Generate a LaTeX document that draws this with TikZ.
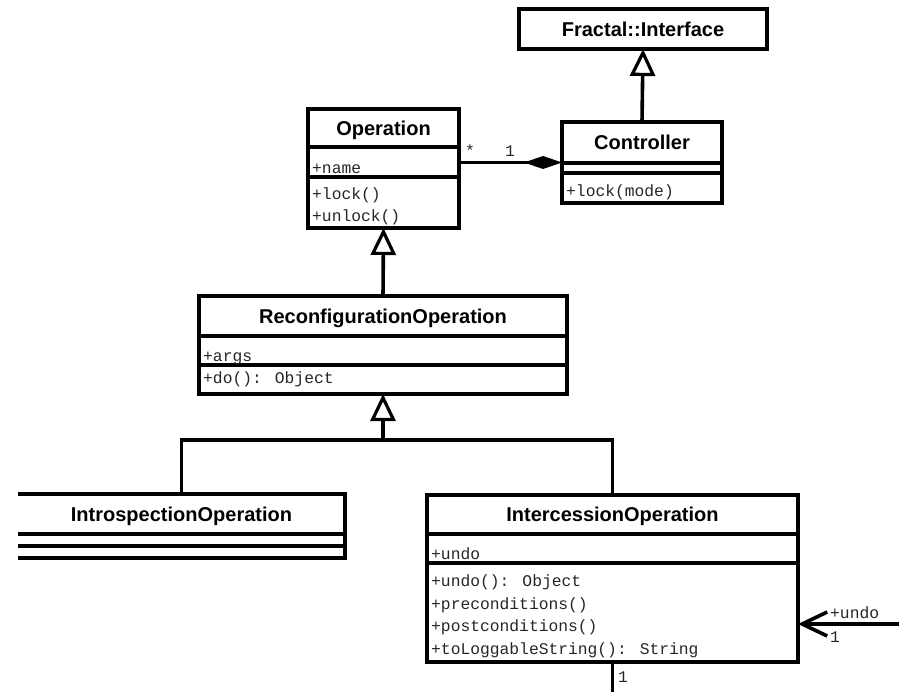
\documentclass[tikz,border=0pt]{standalone}
\usepackage{fontspec}
\setmainfont{Liberation Sans}
\newfontfamily\monof{Liberation Mono}
\usetikzlibrary{arrows.meta}
\begin{document}
\begin{tikzpicture}[x=1bp,y=-1bp,
  lw/.style={line width=3.6bp},
  clsbox/.style={rectangle, inner sep=0pt, outer sep=0pt},
  ttl/.style={font=\fontsize{20bp}{24bp}\selectfont\bfseries, inner sep=0pt, anchor=base},
  mem/.style={font=\fontsize{16.3bp}{19bp}\monof, text=black!85, anchor=base west, inner sep=0pt},
  gen/.style={lw, -{Triangle[open, length=27bp, width=25bp, line width=3.2bp]}},
  ]
\useasboundingbox (0,0) rectangle (899,692);

% Fractal::Interface
\node[clsbox, lw, draw, minimum width=248bp, minimum height=40bp] (frac) at (643,29) {};
\node[ttl] (fracT) at (643,37) {Fractal::Interface};

% Controller
\node[clsbox, lw, draw, minimum width=160bp, minimum height=81bp] (ctrl) at (642,162.5) {};
\node[ttl] (ctrlT) at (642,150) {Controller};
\draw[lw] (ctrl.west |- 0,163) -- (ctrl.east |- 0,163);
\draw[lw] (ctrl.west |- 0,173) -- (ctrl.east |- 0,173);
\node[mem] (ctrlM1) at (566,196) {+lock(mode)};

% Operation
\node[clsbox, lw, draw, minimum width=151bp, minimum height=119bp] (op) at (383.5,168.5) {};
\node[ttl] (opT) at (383.5,136) {Operation};
\draw[lw] (op.west |- 0,147) -- (op.east |- 0,147);
\draw[lw] (op.west |- 0,177) -- (op.east |- 0,177);
\node[mem] (opA1) at (312,174) {+name};
\node[mem] (opM1) at (312,199) {+lock()};
\node[mem] (opM2) at (312,221) {+unlock()};

% ReconfigurationOperation
\node[clsbox, lw, draw, minimum width=368bp, minimum height=98bp] (rec) at (383,345) {};
\node[ttl] (recT) at (383,323) {ReconfigurationOperation};
\draw[lw] (rec.west |- 0,336) -- (rec.east |- 0,336);
\draw[lw] (rec.west |- 0,365) -- (rec.east |- 0,365);
\node[mem] (recA1) at (203,361) {+args};
\node[mem] (recM1) at (203,383) {+do(): Object};

% IntrospectionOperation (left side open)
\node[clsbox, minimum width=327bp, minimum height=64bp] (intro) at (181.5,526) {};
\draw[lw] (intro.north west) -- (intro.north east) -- (intro.south east) -- (intro.south west);
\node[ttl] (introT) at (181.5,521) {IntrospectionOperation};
\draw[lw] (intro.west |- 0,534) -- (intro.east |- 0,534);
\draw[lw] (intro.west |- 0,546) -- (intro.east |- 0,546);

% IntercessionOperation
\node[clsbox, lw, draw, minimum width=371bp, minimum height=167bp] (inter) at (612.5,578.5) {};
\node[ttl] (interT) at (612.5,521) {IntercessionOperation};
\draw[lw] (inter.west |- 0,534) -- (inter.east |- 0,534);
\draw[lw] (inter.west |- 0,563) -- (inter.east |- 0,563);
\node[mem] (interA1) at (431,559) {+undo};
\node[mem] (interM1) at (431,586) {+undo(): Object};
\node[mem] (interM2) at (431,609) {+preconditions()};
\node[mem] (interM3) at (431,631) {+postconditions()};
\node[mem] (interM4) at (431,654) {+toLoggableString(): String};

% Generalizations
\draw[gen] (ctrl.north) -- (frac.south);
\draw[gen] (rec.north) -- (op.south);
\coordinate (junc) at (383,440);
\draw[lw] (intro.north) |- (junc) -| (inter.north);
\draw[gen] (junc) -- (rec.south);

% Composition Operation -- Controller
\draw[lw, -{Diamond[length=38bp, width=13bp]}] (ctrl.west -| op.east) -- (ctrl.west);
\node[mem] (lstar) at (465,157) {*};
\node[mem] (lone) at (505,157) {1};

% Association from the right
\coordinate (rightEnd) at (899,624);
\draw[lw, -{Straight Barb[length=25bp, width=24bp]}] (rightEnd) -- (inter.east |- rightEnd);
\node[mem] (lundo) at (830,618) {+undo};
\node[mem] (lone2) at (830,642) {1};

% Line downward
\coordinate (bottomEnd) at (612.5,692);
\draw[lw] (inter.south) -- (bottomEnd);
\node[mem] (lone3) at (618,682) {1};
\end{tikzpicture}
\end{document}
